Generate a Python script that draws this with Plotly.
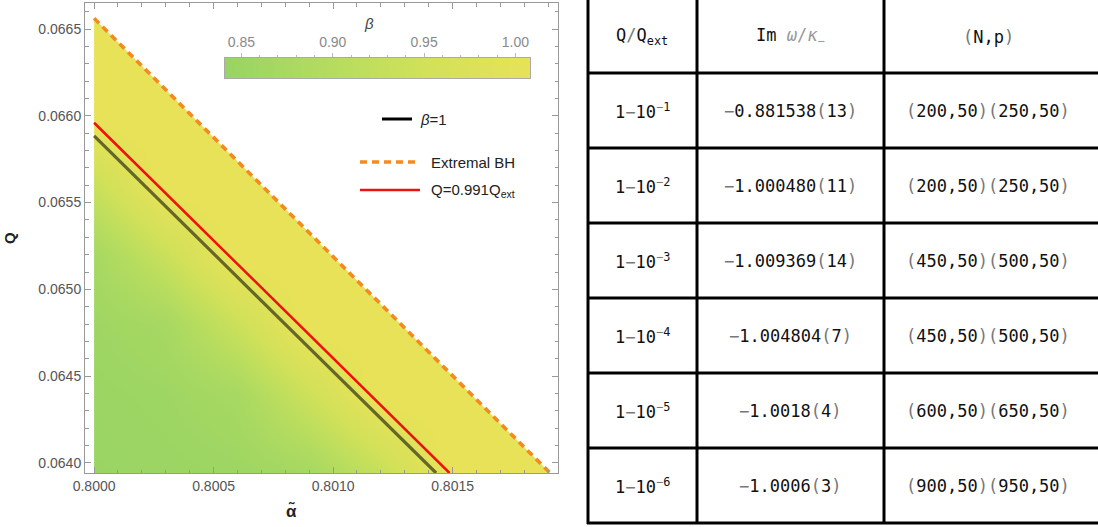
import plotly.graph_objects as go

# ---------------- data ----------------
# heatmap grid of beta
alpha_grid = [0.8000, 0.8003, 0.8006, 0.8009, 0.8012, 0.8015, 0.80191]
q_grid = [0.06394, 0.0644, 0.0648, 0.0652, 0.0656, 0.0660, 0.06656]
beta_grid = [
    [0.845, 0.849, 0.853, 0.868, 0.930, 1.02, 1.02],
    [0.849, 0.855, 0.872, 0.945, 1.02, 1.02, 1.02],
    [0.855, 0.871, 0.940, 1.02, 1.02, 1.02, 1.02],
    [0.870, 0.938, 1.02, 1.02, 1.02, 1.02, 1.02],
    [0.935, 1.02, 1.02, 1.02, 1.02, 1.02, 1.02],
    [1.02, 1.02, 1.02, 1.02, 1.02, 1.02, 1.02],
    [1.02, 1.02, 1.02, 1.02, 1.02, 1.02, 1.02],
]
beta_min, beta_max = 0.841, 1.008
beta_ticks = [0.85, 0.90, 0.95, 1.00]

ext_alpha = [0.8000, 0.801908]
ext_Q = [0.066562, 0.063942]
red_alpha = [0.8000, 0.801487]
red_Q = [0.065960, 0.063942]
beta1_alpha = [0.8000, 0.801431]
beta1_Q = [0.065885, 0.063942]

x_range = [0.799962, 0.801941]
y_range = [0.063942, 0.066650]

# table
q_exponents = [1, 2, 3, 4, 5, 6]
im_main = ["0.881538", "1.000480", "1.009369", "1.004804", "1.0018", "1.0006"]
im_err = ["13", "11", "14", "7", "4", "3"]
N_first = [200, 200, 450, 450, 600, 900]
N_second = [250, 250, 500, 500, 650, 950]
p_val = [50, 50, 50, 50, 50, 50]

# ---------------- figure ----------------
W, H = 1098, 527
def PX(p):
    return p / W
def PY(p):
    return 1 - p / H

GRAY = "#777777"
DARK = "#111111"
PLOTFONT = "Liberation Sans, Arial, sans-serif"
MONO = "DejaVu Sans Mono, Liberation Mono, monospace"
TSIZE = 17

colorscale = [
    [0.0, "rgb(152,212,100)"],
    [0.35, "rgb(181,220,95)"],
    [0.65, "rgb(209,225,89)"],
    [1.0, "rgb(231,226,88)"],
]

fig = go.Figure()

fig.add_trace(go.Heatmap(
    x=alpha_grid, y=q_grid, z=beta_grid, zsmooth="best",
    zmin=beta_min, zmax=beta_max, colorscale=colorscale,
    hoverinfo="skip", showscale=False,
))

# white mask: left strip and the region above the extremal line
mask_x = [x_range[0], ext_alpha[0], ext_alpha[0], ext_alpha[1], x_range[1], x_range[1], x_range[0]]
mask_y = [y_range[0] - 0.0001, y_range[0] - 0.0001, ext_Q[0], ext_Q[1], ext_Q[1] - 0.0001,
          y_range[1] + 0.0001, y_range[1] + 0.0001]
fig.add_trace(go.Scatter(x=mask_x, y=mask_y, fill="toself", fillcolor="white",
                         mode="lines", line=dict(width=0, color="white"),
                         hoverinfo="skip", showlegend=False))

fig.add_trace(go.Scatter(x=beta1_alpha, y=beta1_Q, mode="lines",
                         line=dict(color="rgba(0,0,0,0.55)", width=3.2),
                         showlegend=False, hoverinfo="skip"))
fig.add_trace(go.Scatter(x=red_alpha, y=red_Q, mode="lines",
                         line=dict(color="#ee1111", width=2.5),
                         showlegend=False, hoverinfo="skip"))
fig.add_trace(go.Scatter(x=ext_alpha, y=ext_Q, mode="lines",
                         line=dict(color="#f58a1f", width=3.6, dash="7px,5px"),
                         showlegend=False, hoverinfo="skip"))

# colour bar drawn as a strip on its own axes
fig.add_trace(go.Heatmap(
    x=[beta_min, beta_max], y=[0], z=[[beta_min, beta_max]], zsmooth="best",
    zmin=beta_min, zmax=beta_max, colorscale=colorscale, showscale=False,
    hoverinfo="skip", xaxis="x2", yaxis="y2",
))

axis_common = dict(
    showline=True, linecolor="#999999", linewidth=1, mirror="allticks",
    ticks="inside", ticklen=6, tickcolor="#999999", tickwidth=1,
    showgrid=False, zeroline=False,
    tickfont=dict(family=PLOTFONT, size=14, color="#555555"),
    minor=dict(ticks="inside", ticklen=3.5, tickcolor="#999999", showgrid=False),
)
fig.update_layout(
    xaxis=dict(range=x_range, domain=[PX(85), PX(558)],
               tickmode="linear", tick0=0.8, dtick=0.0005, tickformat=".4f",
               minor_dtick=0.0001, **axis_common),
    yaxis=dict(range=y_range, domain=[PY(473), PY(3)],
               tickmode="linear", tick0=0.064, dtick=0.0005, tickformat=".4f",
               minor_dtick=0.0001, **axis_common),
    xaxis2=dict(range=[beta_min, beta_max], domain=[PX(225), PX(530)], anchor="y2",
                side="top", tickmode="array", tickvals=beta_ticks, tickformat=".2f",
                ticks="outside", ticklen=4, tickcolor="#bbbbbb",
                minor=dict(ticks="outside", ticklen=2.5, dtick=0.01, tickcolor="#bbbbbb"),
                showline=True, linecolor="#aaaaaa", linewidth=1, mirror=True,
                showgrid=False, zeroline=False,
                tickfont=dict(family=PLOTFONT, size=14, color="#8a8a8a")),
    yaxis2=dict(range=[-0.5, 0.5], domain=[PY(78), PY(58)], anchor="x2",
                showticklabels=False, ticks="", showgrid=False, zeroline=False,
                showline=True, linecolor="#aaaaaa", linewidth=1, mirror=True),
)

shapes = []
ann = []

def A(x, y, text, size, color="#222", family=PLOTFONT, xanchor="center", angle=0):
    return dict(x=PX(x), y=PY(y), xref="paper", yref="paper", text=text,
                xanchor=xanchor, yanchor="middle", showarrow=False, textangle=angle,
                font=dict(family=family, size=size, color=color))

# axis titles
ann.append(A(9, 238, "<b>Q</b>", 15, angle=-90))
ann.append(A(291, 511, "<b>α̃</b>", 17))
# colorbar title
ann.append(A(369, 24, "<i>β</i>", 15, color="#444"))

# legend (drawn)
legend_items = [
    (382, 412, 119, "black", 3, "solid", 418, "<i>β</i>=1"),
    (360, 417, 162, "#f58a1f", 3.5, "7px,5px", 429, "Extremal BH"),
    (360, 420, 190, "#ee1111", 2.5, "solid", 429, "Q=0.991Q<sub>ext</sub>"),
]
for x0, x1, yy, col, wd, dsh, tx, label in legend_items:
    shapes.append(dict(type="line", xref="paper", yref="paper", x0=PX(x0), x1=PX(x1),
                       y0=PY(yy), y1=PY(yy), line=dict(color=col, width=wd, dash=dsh)))
    ann.append(A(tx, yy, label, 15, xanchor="left"))

# table grid
col_x = [588, 697, 884]
row_y = [73, 148, 223, 298, 373, 448, 523]
for cx in col_x:
    shapes.append(dict(type="line", xref="paper", yref="paper", x0=PX(cx), x1=PX(cx),
                       y0=PY(-2), y1=PY(row_y[-1] + 1), line=dict(color="black", width=3)))
for ry in row_y:
    shapes.append(dict(type="line", xref="paper", yref="paper", x0=PX(col_x[0] - 1), x1=PX(1100),
                       y0=PY(ry), y1=PY(ry), line=dict(color="black", width=3)))

col_centers = [642, 790, 988]
g = lambda s: f"<span style='color:{GRAY}'>{s}</span>"
header = [
    f"Q{g('/')}Q<sub>ext</sub>",
    f"Im <span style='color:#999999'><i>ω</i>/<i>κ</i><sub>−</sub></span>",
    f"{g('(')}N,p{g(')')}",
]
for cx, txt in zip(col_centers, header):
    ann.append(A(cx, 37, txt, TSIZE, color=DARK, family=MONO))

for i in range(len(q_exponents)):
    yc = (row_y[i] + row_y[i + 1]) / 2
    c1 = f"1{g('−')}10<sup>{g('−')}{q_exponents[i]}</sup>"
    c2 = f"{g('−')}{im_main[i]}{g('(')}{im_err[i]}{g(')')}"
    c3 = f"{g('(')}{N_first[i]},{p_val[i]}{g(')')}{g('(')}{N_second[i]},{p_val[i]}{g(')')}"
    for cx, txt in zip(col_centers, [c1, c2, c3]):
        ann.append(A(cx, yc, txt, TSIZE, color=DARK, family=MONO))

fig.update_layout(
    width=W, height=H, margin=dict(l=0, r=0, t=0, b=0, autoexpand=False),
    paper_bgcolor="white", plot_bgcolor="white",
    shapes=shapes, annotations=ann, showlegend=False,
)

fig.write_html("out.html")
